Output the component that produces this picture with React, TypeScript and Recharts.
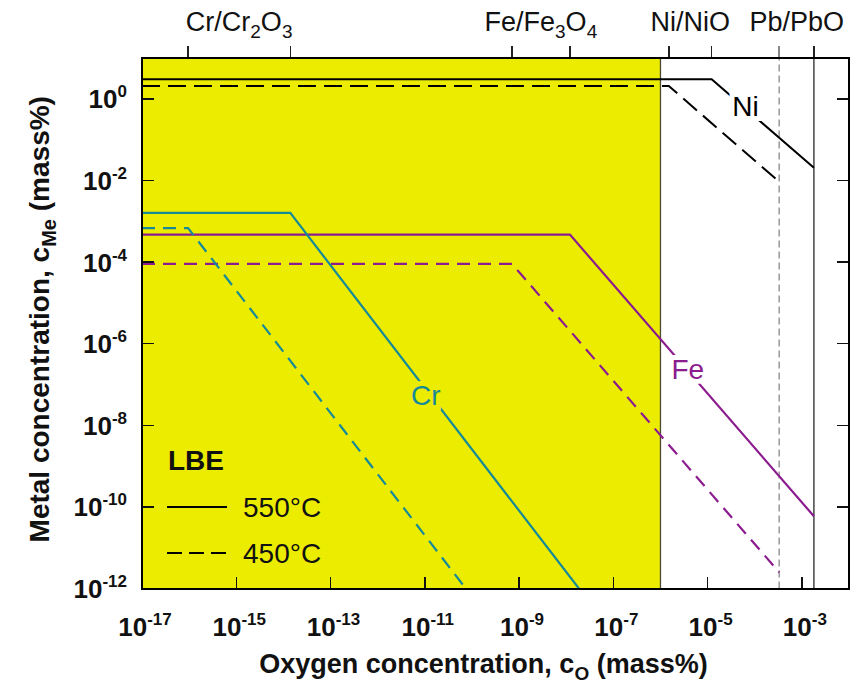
import React from "react";
import {
  ComposedChart,
  Line,
  XAxis,
  YAxis,
  ReferenceArea,
  ReferenceLine,
  ReferenceDot,
  Legend,
} from "recharts";

const FONT = "'Liberation Sans', Arial, Helvetica, sans-serif";
const YELLOW = "#ECEC00";
const TEAL = "#168A96";
const PURPLE = "#8B1C8E";

const X_DOMAIN = [1e-17, 1e-2];
const Y_DOMAIN = [1e-12, 10];

const xTicks = [1e-17, 1e-15, 1e-13, 1e-11, 1e-9, 1e-7, 1e-5, 1e-3];
const yTicks = [1e-12, 1e-10, 1e-8, 1e-6, 1e-4, 1e-2, 1];

// oxygen conc. at which the oxide forms: [450°C, 550°C]
const crOxide = [9.5e-17, 1.4e-14];
const feOxide = [7.1e-10, 1.2e-8];
const niOxide = [1.5e-6, 1.22e-5];
const pbOxide = [3.3e-4, 1.8e-3];
const oxideTicks = [...crOxide, ...feOxide, ...niOxide, ...pbOxide];

// stable magnetite region (shaded)
const shadeLimit = 1e-6;

const cr550 = [
  { x: 1e-17, y: 1.6e-3 },
  { x: 1.4e-14, y: 1.6e-3 },
  { x: 1.86e-8, y: 1e-12 },
];
const cr450 = [
  { x: 1e-17, y: 6.8e-4 },
  { x: 9.5e-17, y: 6.8e-4 },
  { x: 7.4e-11, y: 1e-12 },
];
const fe550 = [
  { x: 1e-17, y: 4.7e-4 },
  { x: 1.2e-8, y: 4.7e-4 },
  { x: 1.8e-3, y: 5.9e-11 },
];
const fe450 = [
  { x: 1e-17, y: 9e-5 },
  { x: 7.1e-10, y: 9e-5 },
  { x: 3.3e-4, y: 2.5e-12 },
];
const ni550 = [
  { x: 1e-17, y: 3.0 },
  { x: 1.22e-5, y: 3.0 },
  { x: 1.8e-3, y: 0.0204 },
];
const ni450 = [
  { x: 1e-17, y: 2.06 },
  { x: 1.5e-6, y: 2.06 },
  { x: 3.3e-4, y: 9.3e-3 },
];

const series = [
  { key: "ni550", data: ni550, color: "#000", dash: undefined, w: 2 },
  { key: "ni450", data: ni450, color: "#000", dash: "18 8", w: 2 },
  { key: "fe550", data: fe550, color: PURPLE, dash: undefined, w: 2.2 },
  { key: "fe450", data: fe450, color: PURPLE, dash: "13 8", w: 2.2 },
  { key: "cr550", data: cr550, color: TEAL, dash: undefined, w: 2.2 },
  { key: "cr450", data: cr450, color: TEAL, dash: "13 8", w: 2.2 },
];

type Part = [string, boolean];

const oxideLabels: { x: number; parts: Part[] }[] = [
  { x: 1.15e-15, parts: [["Cr/Cr", false], ["2", true], ["O", false], ["3", true]] },
  { x: 2.9e-9, parts: [["Fe/Fe", false], ["3", true], ["O", false], ["4", true]] },
  { x: 4.3e-6, parts: [["Ni/NiO", false]] },
  { x: 7.8e-4, parts: [["Pb/PbO", false]] },
];

const curveLabels = [
  { text: "Ni", x: 6.4e-5, y: 0.67, color: "#000", bg: "#fff" },
  { text: "Fe", x: 3.8e-6, y: 2.4e-7, color: PURPLE, bg: "#fff" },
  { text: "Cr", x: 1.05e-11, y: 5.5e-8, color: TEAL, bg: YELLOW },
];

// plot box (set by the axis sizes below)
const BOX = { left: 142, top: 58, width: 707, height: 530.5 };
const TICK = 12;

const ScriptText = ({ x, y, parts, size, small, shift, ...rest }: any) => {
  let cur = 0;
  return (
    <text x={x} y={y} fontSize={size} fontFamily={FONT} {...rest}>
      {parts.map(([t, low]: Part, i: number) => {
        const target = low ? shift : 0;
        const dy = target - cur;
        cur = target;
        return (
          <tspan key={i} dy={dy} fontSize={low ? small : size}>
            {t}
          </tspan>
        );
      })}
    </text>
  );
};

const powerParts = (v: number): Part[] => [
  ["10", false],
  [String(Math.round(Math.log10(v))), true],
];

const BottomTick = ({ x, y, payload }: any) => (
  <ScriptText
    x={x + 3}
    y={y + 15}
    parts={powerParts(payload.value)}
    size={26}
    small={17}
    shift={-11}
    fontWeight="bold"
    textAnchor="middle"
    fill="#111"
  />
);

const LeftTick = ({ x, y, payload }: any) => (
  <ScriptText
    x={x}
    y={y + 9.5}
    parts={powerParts(payload.value)}
    size={26}
    small={17}
    shift={-11}
    fontWeight="bold"
    textAnchor="end"
    fill="#111"
  />
);

const NoTick = () => <g />;

// frame and tick stubs, on the same log mapping as the axes
const lx = (v: number) =>
  BOX.left +
  ((Math.log10(v) - Math.log10(X_DOMAIN[0])) / (Math.log10(X_DOMAIN[1]) - Math.log10(X_DOMAIN[0]))) * BOX.width;
const ly = (v: number) =>
  BOX.top +
  ((Math.log10(Y_DOMAIN[1]) - Math.log10(v)) / (Math.log10(Y_DOMAIN[1]) - Math.log10(Y_DOMAIN[0]))) * BOX.height;

const stub = (left: number, top: number, w: number, h: number, color = "#111") => ({
  position: "absolute" as const,
  left,
  top,
  width: w,
  height: h,
  background: color,
});

const Frame = () => {
  const bottom = BOX.top + BOX.height;
  const right = BOX.left + BOX.width;
  return (
    <div style={{ position: "absolute", left: 0, top: 0, width: 852, height: 686, zIndex: 10, pointerEvents: "none" }}>
      {xTicks.slice(1).map((v) => (
        <div key={`b${v}`} style={stub(lx(v) - 0.75, bottom - TICK, 1.5, TICK)} />
      ))}
      {yTicks.slice(1).map((v) => (
        <React.Fragment key={`y${v}`}>
          <div style={stub(BOX.left, ly(v) - 0.75, TICK, 1.5)} />
          <div style={stub(right - TICK, ly(v) - 0.75, TICK, 1.5)} />
        </React.Fragment>
      ))}
      {oxideTicks.map((v, i) => (
        <div key={`o${i}`} style={stub(lx(v) - 0.75, BOX.top - TICK, 1.5, TICK, i === 6 ? "#888" : "#222")} />
      ))}
      <div
        style={{
          position: "absolute",
          left: BOX.left - 1.25,
          top: BOX.top - 1.25,
          width: BOX.width + 2.5,
          height: BOX.height + 2.5,
          border: "2.5px solid #000",
          boxSizing: "border-box",
        }}
      />
    </div>
  );
};

const LegendBox = () => (
  <svg width={200} height={140} style={{ display: "block" }}>
    <text x={8} y={30} fontFamily={FONT} fontSize={28} fontWeight="bold" fill="#111">
      LBE
    </text>
    <line x1={7} x2={67} y1={67} y2={67} stroke="#000" strokeWidth={2} />
    <text x={83} y={77} fontFamily={FONT} fontSize={28} fill="#111">
      550°C
    </text>
    <line x1={7} x2={67} y1={113} y2={113} stroke="#000" strokeWidth={2} strokeDasharray="15 7" />
    <text x={83} y={123} fontFamily={FONT} fontSize={28} fill="#111">
      450°C
    </text>
  </svg>
);

const XTitle = ({ viewBox }: any) => (
  <ScriptText
    x={viewBox.x + viewBox.width / 2 - 12}
    y={viewBox.y + 84}
    parts={[
      ["Oxygen concentration, c", false],
      ["O", true],
      [" (mass%)", false],
    ]}
    size={27}
    small={19}
    shift={7}
    fontWeight="bold"
    textAnchor="middle"
    fill="#111"
  />
);

const YTitle = ({ viewBox }: any) => {
  const cx = 40;
  const cy = viewBox.y + viewBox.height / 2 - 4;
  return (
    <g transform={`rotate(-90 ${cx} ${cy})`}>
      <ScriptText
        x={cx}
        y={cy + 9}
        parts={[
          ["Metal concentration, c", false],
          ["Me", true],
          [" (mass%)", false],
        ]}
        size={28}
        small={20}
        shift={7}
        fontWeight="bold"
        textAnchor="middle"
        fill="#111"
      />
    </g>
  );
};

const ids = { xAxisId: "bottom", yAxisId: "left" };

export default function App() {
  return (
    <div style={{ position: "absolute", left: 0, top: 0, width: 852, height: 686 }}>
      <ComposedChart width={852} height={686} margin={{ top: 0, right: 0, bottom: 0, left: 0 }}>
        <ReferenceArea
          {...ids}
          x1={X_DOMAIN[0]}
          x2={shadeLimit}
          y1={Y_DOMAIN[0]}
          y2={Y_DOMAIN[1]}
          fill={YELLOW}
          fillOpacity={1}
          stroke="none"
          ifOverflow="visible"
        />
        <ReferenceLine {...ids} x={shadeLimit} stroke="#4a4a30" strokeWidth={1.3} />
        <ReferenceLine {...ids} x={pbOxide[0]} stroke="#888" strokeWidth={1.3} strokeDasharray="7 4" />
        <ReferenceLine {...ids} x={pbOxide[1]} stroke="#444" strokeWidth={1.5} />

        <XAxis
          xAxisId="bottom"
          dataKey="x"
          type="number"
          scale="log"
          domain={X_DOMAIN}
          ticks={xTicks}
          allowDataOverflow
          height={97.5}
          tickSize={-TICK}
          tickMargin={44}
          tick={BottomTick}
          tickLine={false}
          axisLine={false}
          label={{ content: XTitle }}
        />
        <XAxis
          xAxisId="top"
          orientation="top"
          dataKey="x"
          type="number"
          scale="log"
          domain={X_DOMAIN}
          ticks={oxideTicks}
          allowDataOverflow
          height={BOX.top}
          tick={NoTick}
          tickLine={false}
          axisLine={false}
        />
        <YAxis
          yAxisId="left"
          type="number"
          scale="log"
          domain={Y_DOMAIN}
          ticks={yTicks}
          allowDataOverflow
          width={BOX.left}
          tickSize={-TICK}
          tickMargin={27}
          tick={LeftTick}
          tickLine={false}
          axisLine={false}
          label={{ content: YTitle }}
        />
        <YAxis
          yAxisId="right"
          orientation="right"
          type="number"
          scale="log"
          domain={Y_DOMAIN}
          ticks={yTicks}
          allowDataOverflow
          width={3}
          tick={NoTick}
          tickLine={false}
          axisLine={false}
        />

        {series.map((s) => (
          <Line
            key={s.key}
            {...ids}
            data={s.data}
            dataKey="y"
            type="linear"
            stroke={s.color}
            strokeWidth={s.w}
            strokeDasharray={s.dash}
            dot={false}
            activeDot={false}
            isAnimationActive={false}
          />
        ))}

        {curveLabels.map((c) => (
          <ReferenceDot
            key={c.text}
            {...ids}
            x={c.x}
            y={c.y}
            r={1}
            shape={(p: any) => (
              <text
                x={p.cx}
                y={p.cy + 10}
                textAnchor="middle"
                fontFamily={FONT}
                fontSize={28}
                fill={c.color}
                stroke={c.bg}
                strokeWidth={10}
                paintOrder="stroke"
              >
                {c.text}
              </text>
            )}
          />
        ))}

        {oxideLabels.map((o, i) => (
          <ReferenceDot
            key={i}
            {...ids}
            x={o.x}
            y={Y_DOMAIN[1]}
            r={1}
            ifOverflow="visible"
            shape={(p: any) => (
              <ScriptText
                x={p.cx}
                y={p.cy - 27}
                parts={o.parts}
                size={27}
                small={19}
                shift={7}
                textAnchor="middle"
                fill="#111"
              />
            )}
          />
        ))}

        <Legend
          layout="horizontal"
          verticalAlign="middle"
          align="center"
          content={LegendBox}
          wrapperStyle={{ position: "absolute", left: 160, top: 440, width: 200, height: 140 }}
        />
      </ComposedChart>
      <Frame />
    </div>
  );
}
